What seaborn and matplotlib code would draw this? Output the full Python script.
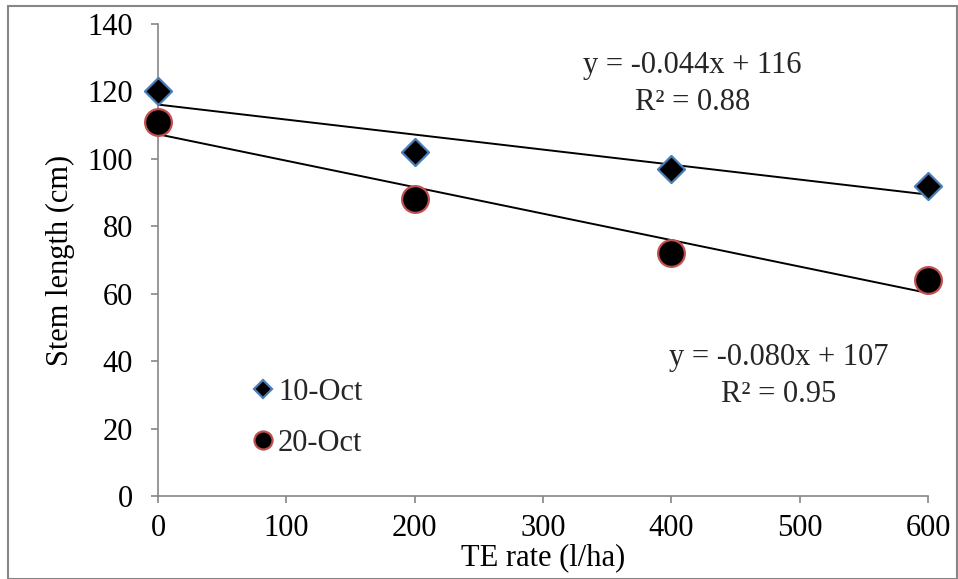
import numpy as np
import pandas as pd
import seaborn as sns
import matplotlib
matplotlib.use("Agg")
import matplotlib.pyplot as plt
from matplotlib.patches import Rectangle
from matplotlib.lines import Line2D

rates = [0, 200, 400, 600]
oct10 = [120, 102, 97, 92]
oct20 = [111, 88, 72, 64]
series_names = ["10-Oct", "20-Oct"]
eq1 = ["y = -0.044x + 116", "R² = 0.88"]
eq2 = ["y = -0.080x + 107", "R² = 0.95"]

sns.set_theme(style="white")
plt.rcParams['font.family'] = ['Liberation Serif', 'DejaVu Serif']

FS = 22
GRAY = "#868686"

df = pd.DataFrame({"rate": rates * 2, "len": oct10 + oct20,
                   "series": [series_names[0]] * 4 + [series_names[1]] * 4})

fig = plt.figure(figsize=(9.58, 5.79), dpi=100)
ax = fig.add_axes([158 / 958, 83 / 579, 770 / 958, 472 / 579])

# linear trend lines
for vals in (oct10, oct20):
    sns.regplot(x=rates, y=vals, ax=ax, ci=None, scatter=False,
                line_kws=dict(color="black", lw=1.4, zorder=2), truncate=True)

d1 = df[df.series == series_names[0]]
d2 = df[df.series == series_names[1]]
sns.scatterplot(data=d1, x="rate", y="len", ax=ax, marker="D", s=190,
                color="black", edgecolor="#4a7ebb", linewidth=1.6, zorder=3, legend=False)
sns.scatterplot(data=d2, x="rate", y="len", ax=ax, marker="o", s=370,
                color="black", edgecolor="#c0504d", linewidth=1.6, zorder=3, legend=False)

ax.set_xlim(0, 600)
ax.set_ylim(0, 140)
ax.set_xticks(range(0, 601, 100))
ax.set_yticks(range(0, 141, 20))
ax.tick_params(labelsize=FS, length=5, width=1.2, color=GRAY, direction="out",
               left=True, bottom=True, labelcolor="black")
ax.tick_params(axis="x", pad=8)
ax.tick_params(axis="y", pad=13)
for s in ["top", "right"]:
    ax.spines[s].set_visible(False)
for s in ["left", "bottom"]:
    ax.spines[s].set_color(GRAY)
    ax.spines[s].set_linewidth(1.2)
for c in ax.collections:
    c.set_clip_on(False)
ax.set_xlabel("TE rate (l/ha)", fontsize=FS, labelpad=0, color="black")
ax.set_ylabel("Stem length (cm)", fontsize=FS, labelpad=9, color="black")

ax.text(0.694, 0.913, eq1[0], transform=ax.transAxes, ha="center", va="center", fontsize=FS)
ax.text(0.694, 0.833, eq1[1], transform=ax.transAxes, ha="center", va="center", fontsize=FS)
ax.text(0.806, 0.294, eq2[0], transform=ax.transAxes, ha="center", va="center", fontsize=FS)
ax.text(0.806, 0.214, eq2[1], transform=ax.transAxes, ha="center", va="center", fontsize=FS)

handles = [Line2D([], [], marker="D", ls="none", color="black", markeredgecolor="#4a7ebb",
                  markeredgewidth=1.6, markersize=9.5),
           Line2D([], [], marker="o", ls="none", color="black", markeredgecolor="#c0504d",
                  markeredgewidth=1.6, markersize=13)]
ax.legend(handles, series_names, loc="center left", bbox_to_anchor=(0.116, 0.165),
          frameon=False, fontsize=FS, handletextpad=0.0, labelspacing=0.72,
          borderpad=0, borderaxespad=0, handlelength=1.0)

fig.patches.append(Rectangle((8 / 958, 0.0), 949 / 958, 573 / 579, transform=fig.transFigure,
                             fill=False, edgecolor=GRAY, lw=1.5))

fig.savefig("out.png", dpi=100)
